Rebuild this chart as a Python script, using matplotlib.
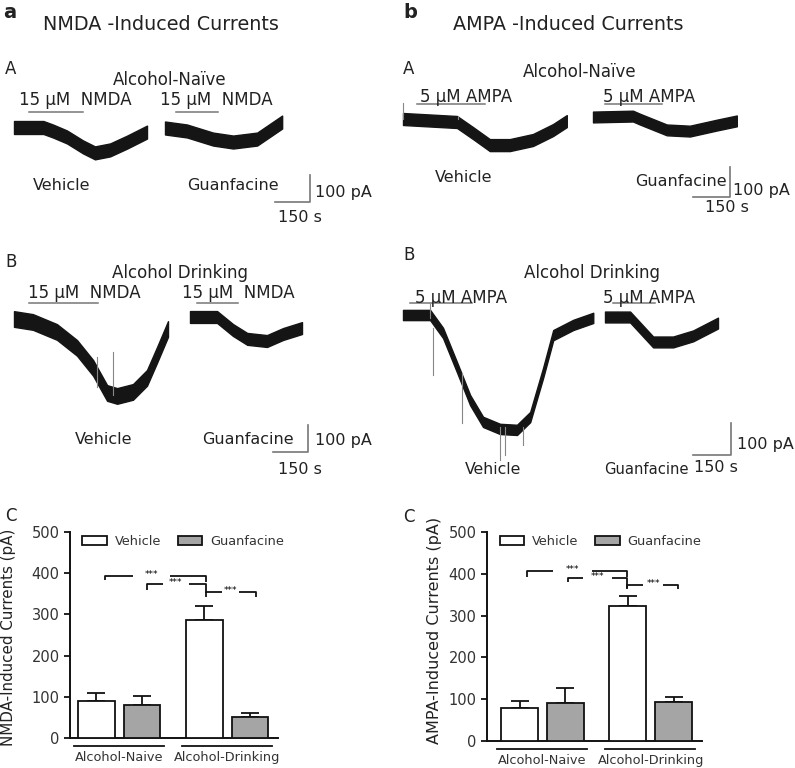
import matplotlib.pyplot as plt
import numpy as np
from matplotlib.patches import Patch

plt.rcParams['font.family'] = ['DejaVu Sans']

W, H = 795, 768

# whole-cell traces: time (s) from start of trace, current (pA) from baseline
nmda_naive_veh_t = [0, 126, 167, 227, 296, 347, 412, 485, 570]
nmda_naive_veh_i = [0, 0, -13, -35, -72, -94, -83, -54, -17]
nmda_naive_gua_t = [0, 94, 206, 292, 395, 502]
nmda_naive_gua_i = [0, -11, -41, -52, -41, 22]
nmda_drink_veh_t = [0, 81, 184, 270, 339, 399, 442, 510, 570, 613, 660]
nmda_drink_veh_i = [0, -11, -48, -107, -181, -274, -285, -270, -218, -133, -37]
nmda_drink_gua_t = [0, 116, 184, 245, 330, 399, 480]
nmda_drink_gua_i = [0, 0, -48, -81, -89, -63, -41]
ampa_naive_veh_t = [0, 219, 284, 352, 433, 527, 608, 664]
ampa_naive_veh_i = [0, -10, -47, -87, -87, -70, -37, -7]
ampa_naive_gua_t = [0, 162, 190, 299, 393, 502, 583]
ampa_naive_gua_i = [0, 3, -7, -43, -47, -27, -13]
ampa_drink_veh_t = [0, 107, 158, 213, 265, 316, 383, 450, 502, 553, 593, 672, 751]
ampa_drink_veh_i = [0, 0, -56, -163, -266, -334, -356, -359, -319, -181, -63, -31, -9]
ampa_drink_gua_t = [0, 99, 190, 269, 348, 446]
ampa_drink_gua_i = [0, 0, -78, -78, -59, -19]

# noise half-width of each trace (pA): vehicle, guanfacine
nmda_naive_noise = [24, 24]
nmda_drink_noise = [29, 22]
ampa_naive_noise = [20, 18]
ampa_drink_noise = [16, 17]

# drug application windows (s from trace start): vehicle, guanfacine
nmda_naive_app = [(64, 296), (47, 227)]
nmda_drink_app = [(64, 360), (30, 206)]
ampa_naive_app = [(57, 332), (49, 279)]
ampa_drink_app = [(28, 273), (32, 198)]

# artefact spikes on the vehicle traces: time (s), from (pA), to (pA)
nmda_drink_spikes = [(356, -141, -252), (425, -122, -281)]
ampa_naive_spikes = [(0, 0, 53), (223, 0, 10)]
ampa_drink_spikes = [(107, -10, 37), (118, -40, -188), (233, -180, -338),
                     (383, -350, -453), (403, -350, -438), (474, -350, -406)]

# summary bars (pA)
groups = ['Alcohol-Naive', 'Alcohol-Drinking']
nmda_vehicle = [90, 286]
nmda_vehicle_err = [20, 34]
nmda_guanf = [80, 51]
nmda_guanf_err = [22, 9]
ampa_vehicle = [79, 323]
ampa_vehicle_err = [17, 24]
ampa_guanf = [91, 93]
ampa_guanf_err = [36, 12]

TRACE = '#151515'
GREY = '#777777'
BAR_GREY = '#a5a5a5'

fig = plt.figure(figsize=(W / 100, H / 100), dpi=100)


def txt(x, y, s, size=11.5, **kw):
    kw.setdefault('va', 'center')
    fig.text(x / W, 1 - y / H, s, fontsize=size, color='#222222', **kw)


def trace_row(box, s_per_px, pa_per_px):
    x0, y0, x1, y1 = box
    ax = fig.add_axes([x0 / W, 1 - y1 / H, (x1 - x0) / W, (y1 - y0) / H])
    ax.set_xlim(0, (x1 - x0) * s_per_px)
    ax.set_ylim(-(y1 - y0) * pa_per_px, 0)
    ax.axis('off')

    def to_data(px, py):
        return (px - x0) * s_per_px, -(py - y0) * pa_per_px
    return ax, to_data


def draw_row(box, s_per_px, pa_per_px, traces, noise, apps, app_py, spikes,
             scale_corner):
    ax, to_data = trace_row(box, s_per_px, pa_per_px)
    for k, (t, i, start) in enumerate(traces):
        tx, ty = to_data(*start)
        t = tx + np.array(t, float)
        i = ty + np.array(i, float)
        ax.fill_between(t, i - noise[k], i + noise[k], color=TRACE, lw=1.0,
                        joinstyle='round')
        a0, a1 = apps[k]
        ay = to_data(0, app_py)[1]
        ax.plot([tx + a0, tx + a1], [ay, ay], color=GREY, lw=1.1)
        if k == 0:
            for st, lo, hi in spikes:
                ax.plot([tx + st, tx + st], [ty + lo, ty + hi], color='#888888', lw=0.8)
    cx, cy = to_data(*scale_corner)
    ax.plot([cx - 150, cx, cx], [cy, cy, cy + 100], color=GREY, lw=1.2)


# ---------------- traces ----------------
sa = 150 / 35, 100 / 27
draw_row((0, 85, 400, 235), *sa,
         [(nmda_naive_veh_t, nmda_naive_veh_i, (14, 127.5)),
          (nmda_naive_gua_t, nmda_naive_gua_i, (165, 128))],
         nmda_naive_noise, nmda_naive_app, 112, [], (310, 202))
draw_row((0, 290, 400, 480), *sa,
         [(nmda_drink_veh_t, nmda_drink_veh_i, (14, 319)),
          (nmda_drink_gua_t, nmda_drink_gua_i, (190, 317))],
         nmda_drink_noise, nmda_drink_app, 303, nmda_drink_spikes, (308, 452))
draw_row((400, 85, 795, 235), 150 / 37, 100 / 30,
         [(ampa_naive_veh_t, ampa_naive_veh_i, (403, 119)),
          (ampa_naive_gua_t, ampa_naive_gua_i, (593, 117))],
         ampa_naive_noise, ampa_naive_app, 104, ampa_naive_spikes, (730, 197))
draw_row((400, 290, 795, 480), 150 / 38, 100 / 32,
         [(ampa_drink_veh_t, ampa_drink_veh_i, (403, 315)),
          (ampa_drink_gua_t, ampa_drink_gua_i, (605, 317))],
         ampa_drink_noise, ampa_drink_app, 303, ampa_drink_spikes, (731, 455))

# ---------------- trace labels ----------------
txt(3, 12, 'a', 14, weight='bold')
txt(403, 12, 'b', 14, weight='bold')
txt(43, 25, 'NMDA -Induced Currents', 13.8)
txt(453, 25, 'AMPA -Induced Currents', 13.8)

txt(5, 69, 'A', 12)
txt(170, 80, 'Alcohol-Naïve', 12, ha='center')
txt(19, 100, '15 µM  NMDA', 12)
txt(160, 100, '15 µM  NMDA', 12)
txt(33, 185, 'Vehicle')
txt(187, 185, 'Guanfacine')
txt(315, 193, '100 pA')
txt(278, 218, '150 s')

txt(5, 262, 'B', 12)
txt(180, 273, 'Alcohol Drinking', 12, ha='center')
txt(28, 293, '15 µM  NMDA', 12)
txt(182, 293, '15 µM  NMDA', 12)
txt(75, 440, 'Vehicle')
txt(202, 440, 'Guanfacine')
txt(315, 440, '100 pA')
txt(278, 470, '150 s')

txt(403, 69, 'A', 12)
txt(580, 72, 'Alcohol-Naïve', 12, ha='center')
txt(420, 97, '5 µM AMPA', 12)
txt(603, 97, '5 µM AMPA', 12)
txt(435, 177, 'Vehicle')
txt(635, 182, 'Guanfacine')
txt(733, 191, '100 pA')
txt(705, 208, '150 s')

txt(403, 255, 'B', 12)
txt(592, 273, 'Alcohol Drinking', 12, ha='center')
txt(415, 298, '5 µM AMPA', 12)
txt(603, 298, '5 µM AMPA', 12)
txt(465, 470, 'Vehicle', 11.3)
txt(604, 470, 'Guanfacine', 10.6)
txt(737, 445, '100 pA')
txt(694, 467, '150 s')


# ---------------- bar charts ----------------
def bar_panel(box, xlim, veh, veh_err, gua, gua_err, brackets):
    x0, y0, x1, y1 = box
    ax = fig.add_axes([x0 / W, 1 - y1 / H, (x1 - x0) / W, (y1 - y0) / H])
    veh_pos = [0, 2.36]
    gua_pos = [1, 3.36]
    ax.bar(veh_pos, veh, 0.8, color='white', edgecolor='#111111', lw=1.3, zorder=3)
    ax.bar(gua_pos, gua, 0.8, color=BAR_GREY, edgecolor='#111111', lw=1.3, zorder=3)
    ax.errorbar(veh_pos, veh, yerr=[[0, 0], veh_err], fmt='none', ecolor='#111111',
                elinewidth=1.3, capsize=6.5, capthick=1.3, zorder=2)
    ax.errorbar(gua_pos, gua, yerr=[[0, 0], gua_err], fmt='none', ecolor='#111111',
                elinewidth=1.3, capsize=6.5, capthick=1.3, zorder=2)
    ax.set_xlim(*xlim)
    ax.set_ylim(0, 500)
    ax.set_yticks(range(0, 501, 100))
    ax.set_xticks([])
    for s in ('top', 'right'):
        ax.spines[s].set_visible(False)
    for s in ('left', 'bottom'):
        ax.spines[s].set_linewidth(1.4)
        ax.spines[s].set_color('#111111')
    ax.tick_params(axis='y', labelsize=10.5, length=4, width=1.3,
                   colors='#111111', labelcolor='#333333')
    tr = ax.get_xaxis_transform()
    centers = [(veh_pos[0] + gua_pos[0]) / 2, (veh_pos[1] + gua_pos[1]) / 2]
    for c, g in zip(centers, groups):
        ax.plot([c - 0.99, c + 0.97], [-0.039, -0.039], color='#111111', lw=1.3,
                transform=tr, clip_on=False)
        ax.text(c, -0.093, g, transform=tr, ha='center', va='center',
                fontsize=9.3, color='#333333')
    for xl, xr, y, tl, tr_, gl, gr in brackets:
        kw = dict(color='#111111', lw=1.3, clip_on=False, solid_capstyle='butt')
        ax.plot([xl, xl, gl], [y - tl, y, y], **kw)
        ax.plot([gr, xr, xr], [y, y, y - tr_], **kw)
        ax.text((gl + gr) / 2, y + 3, '***', ha='center', va='center', fontsize=6.5)
    handles = [Patch(fc='white', ec='#111111', lw=1.3),
               Patch(fc=BAR_GREY, ec='#111111', lw=1.3)]
    ax.legend(handles, ['Vehicle', 'Guanfacine'], ncol=2, frameon=False,
              loc='upper left', bbox_to_anchor=(0.035, 1.01), borderaxespad=0,
              fontsize=9.3, handlelength=1.9, handleheight=0.7,
              handletextpad=0.6, columnspacing=1.3, labelcolor='#333333')
    return ax


bar_panel((70, 532, 278, 738), (-0.576, 3.97),
          nmda_vehicle, nmda_vehicle_err, nmda_guanf, nmda_guanf_err,
          [(0.185, 2.40, 393, 10, 15, 0.79, 1.60),
           (1.10, 2.40, 374, 15, 22, 1.45, 2.03),
           (2.40, 3.49, 354, 12, 12, 2.75, 3.12)])
bar_panel((487, 532, 702, 741), (-0.71, 3.98),
          ampa_vehicle, ampa_vehicle_err, ampa_guanf, ampa_guanf_err,
          [(0.163, 2.347, 407, 14, 14, 0.731, 1.583),
           (1.059, 2.347, 390, 10, 24, 1.386, 2.019),
           (2.347, 3.46, 373, 9, 10, 2.696, 3.133)])

txt(5, 516, 'C', 12)
txt(403, 517, 'C', 12)
txt(9, 637, 'NMDA-Induced Currents (pA)', 10.9, rotation=90, ha='center')
txt(435, 630, 'AMPA-Induced Currents (pA)', 11.5, rotation=90, ha='center')

fig.savefig('out.png', dpi=100, facecolor='white')
